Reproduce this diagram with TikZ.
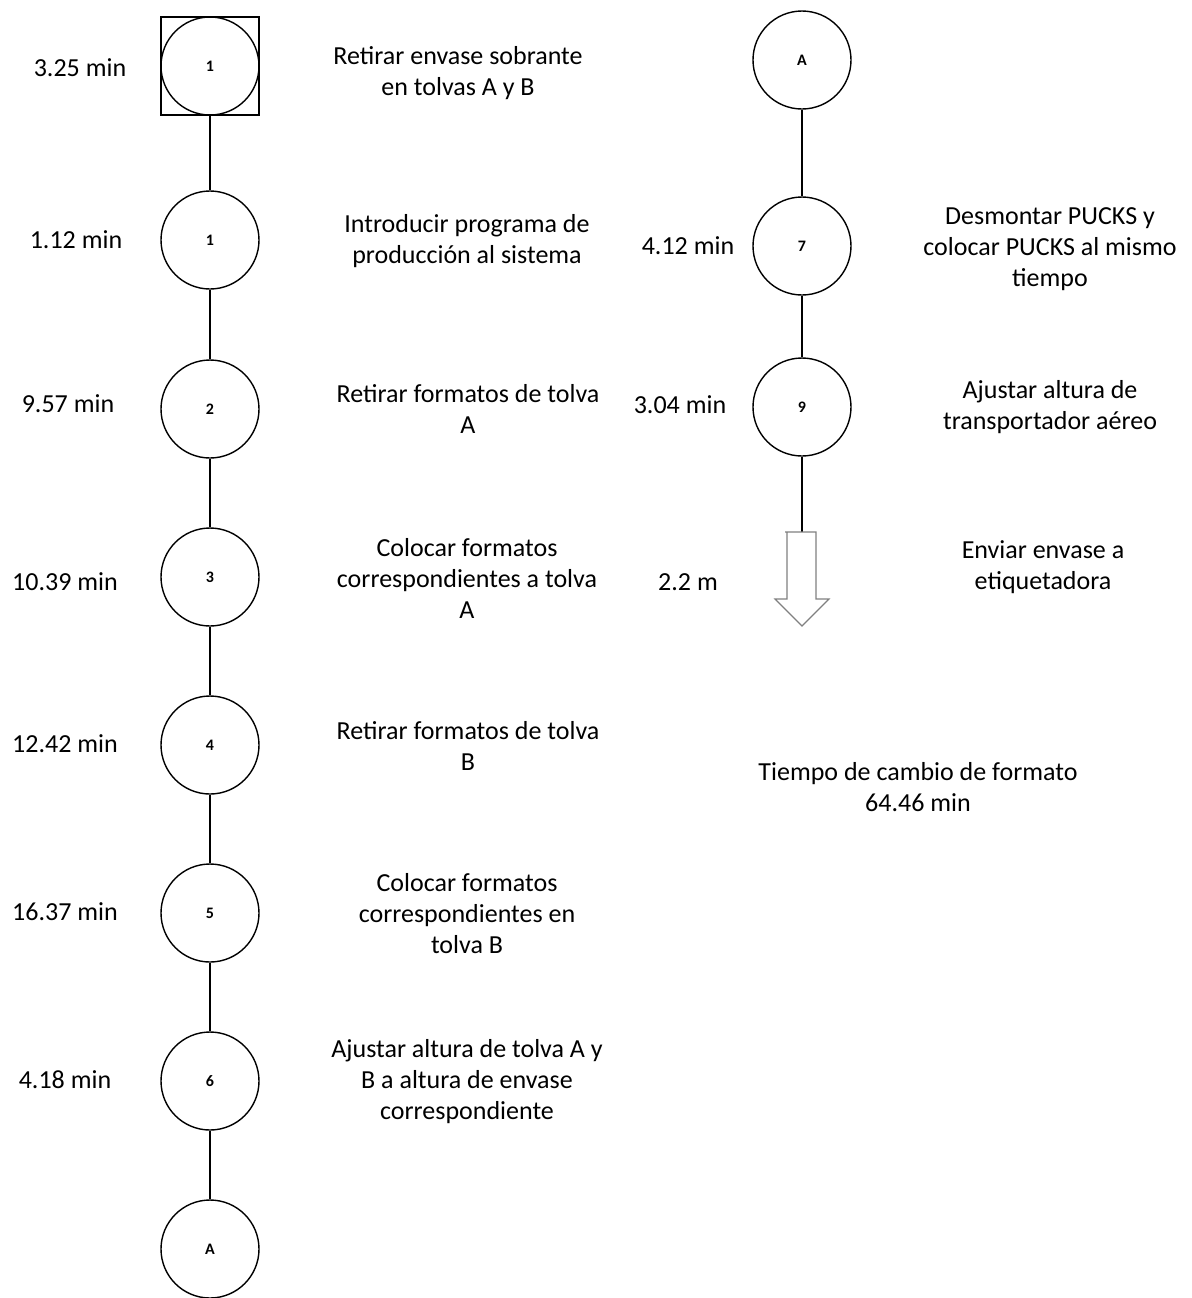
\documentclass[tikz,border=0pt]{standalone}
\usepackage{fontspec}
\setmainfont{Carlito}
\begin{document}
\begin{tikzpicture}[x=0.5pt,y=-0.5pt,line width=0.7pt,
	op/.style={circle,draw,minimum size=49pt,inner sep=0pt,font=\fontsize{8}{9}\selectfont\bfseries},
	tm/.style={font=\fontsize{13}{16}\selectfont},
	desc/.style={font=\fontsize{13}{15.5}\selectfont,align=center}]
	\useasboundingbox(0,0)rectangle(1191,1298);
	% columna izquierda
	\node(Q1)at(210,66)[draw,minimum size=49pt,inner sep=0pt]{};
	\node(C1)at(210,66)[op]{1};
	\node(C2)at(210,240)[op]{1};
	\node(C3)at(210,409)[op]{2};
	\node(C4)at(210,577)[op]{3};
	\node(C5)at(210,745)[op]{4};
	\node(C6)at(210,913)[op]{5};
	\node(C7)at(210,1081)[op]{6};
	\node(CA)at(210,1249)[op]{A};
	\draw(C1)--(C2);
	\draw(C2)--(C3);
	\draw(C3)--(C4);
	\draw(C4)--(C5);
	\draw(C5)--(C6);
	\draw(C6)--(C7);
	\draw(C7)--(CA);
	\node(T1)at(80,68)[tm]{3.25 min};
	\node(T2)at(76,240)[tm]{1.12 min};
	\node(T3)at(68,404)[tm]{9.57 min};
	\node(T4)at(65,582)[tm]{10.39 min};
	\node(T5)at(65,744)[tm]{12.42 min};
	\node(T6)at(65,912)[tm]{16.37 min};
	\node(T7)at(65,1080)[tm]{4.18 min};
	\node(D1)at(458,73)[desc]{Retirar envase sobrante\\en tolvas A y B};
	\node(D2)at(467,241)[desc]{Introducir programa de\\producción al sistema};
	\node(D3)at(468,409)[desc]{Retirar formatos de tolva\\A};
	\node(D4)at(467,578)[desc]{Colocar formatos\\correspondientes a tolva\\A};
	\node(D5)at(468,746)[desc]{Retirar formatos de tolva\\B};
	\node(D6)at(467,914)[desc]{Colocar formatos\\correspondientes en\\tolva B};
	\node(D7)at(467,1082)[desc]{Ajustar altura de tolva A y\\B a altura de envase\\correspondiente};
	% columna derecha
	\node(RA)at(802,60)[op]{A};
	\node(R7)at(802,246)[op]{7};
	\node(R9)at(802,407)[op]{9};
	\coordinate(E)at(802,532);
	\draw(RA)--(R7);
	\draw(R7)--(R9);
	\draw(R9)--(E);
	\draw[gray,line width=0.6pt](E)-|(816,599)-|(829,599)--(802,626)--(775,599)-|(787,532)--(785,532)--(E);
	\node(U7)at(688,246)[tm]{4.12 min};
	\node(U9)at(680,405)[tm]{3.04 min};
	\node(UE)at(688,582)[tm]{2.2 m};
	\node(V7)at(1050,249)[desc]{Desmontar PUCKS y\\colocar PUCKS al mismo\\tiempo};
	\node(V9)at(1050,407)[desc]{Ajustar altura de\\transportador aéreo};
	\node(VE)at(1043,567)[desc]{Enviar envase a\\etiquetadora};
	\node(TT)at(918,787)[desc]{Tiempo de cambio de formato\\64.46 min};
\end{tikzpicture}
\end{document}
